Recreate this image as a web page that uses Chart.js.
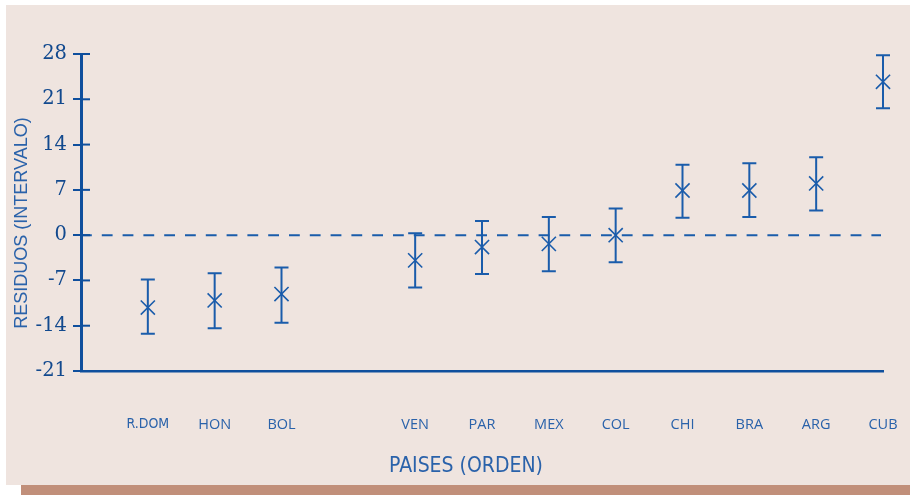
<!DOCTYPE html>
<html>
<head>
<meta charset="utf-8">
<script src="https://cdn.jsdelivr.net/npm/chart.js@4.4.1/dist/chart.umd.min.js"></script>
<style>
  html, body { margin: 0; padding: 0; background: #ffffff; }
  #wrap { position: relative; width: 910px; height: 495px; overflow: hidden; }
  #panel { position: absolute; left: 6px; top: 5px; width: 904px; height: 480px; background: #efe4df; }
  #strip { position: absolute; left: 21px; top: 485px; width: 889px; height: 10px; background: #c18f7a; }
  #c { position: absolute; left: 0; top: 0; }
</style>
</head>
<body>
<div id="wrap">
  <div id="panel"></div>
  <div id="strip"></div>
  <canvas id="c" width="910" height="495"></canvas>
</div>
<script>
// Countries in ranked order and their slot on the horizontal axis (slot 4 left empty)
const countries = ['R.DOM', 'HON', 'BOL', 'VEN', 'PAR', 'MEX', 'COL', 'CHI', 'BRA', 'ARG', 'CUB'];
const positions = [1, 2, 3, 5, 6, 7, 8, 9, 10, 11, 12];
// Residual estimate and its interval bounds
const residuals = [-11.2, -10.1, -9.1, -3.9, -1.85, -1.35, 0.0, 6.9, 6.9, 8.0, 23.7];
const upperBound = [-6.85, -5.9, -5.0, 0.3, 2.2, 2.8, 4.1, 10.9, 11.1, 12.05, 27.8];
const lowerBound = [-15.25, -14.4, -13.55, -8.1, -6.0, -5.6, -4.2, 2.7, 2.8, 3.8, 19.6];
// Vertical axis range and tick step
const yMin = -21, yMax = 28, yStep = 7;

const axisColor = '#0f4f9d';
const markColor = '#1a5cab';
const textColor = '#2a62aa';

const points = positions.map((p, i) => ({ x: p, y: residuals[i] }));

// Error bars, zero reference line, inner tick halves and axis titles
const decorations = {
  id: 'decorations',
  beforeDatasetsDraw(chart) {
    const { ctx, chartArea, scales: { x, y } } = chart;
    const y0 = y.getPixelForValue(0);
    ctx.save();
    // dashed zero line
    ctx.strokeStyle = markColor;
    ctx.lineWidth = 2;
    ctx.setLineDash([10.8, 10]);
    ctx.beginPath();
    ctx.moveTo(chartArea.left, y0);
    ctx.lineTo(chartArea.right - 2, y0);
    ctx.stroke();
    ctx.setLineDash([]);
    // tick marks crossing into the plot
    ctx.strokeStyle = axisColor;
    ctx.lineWidth = 2;
    y.ticks.forEach(t => {
      const py = y.getPixelForValue(t.value);
      ctx.beginPath();
      ctx.moveTo(chartArea.left, py);
      ctx.lineTo(chartArea.left + 9, py);
      ctx.stroke();
    });
    // interval bars with caps
    ctx.strokeStyle = markColor;
    positions.forEach((p, i) => {
      const px = x.getPixelForValue(p);
      const top = y.getPixelForValue(upperBound[i]);
      const bot = y.getPixelForValue(lowerBound[i]);
      ctx.lineWidth = 2;
      ctx.beginPath();
      ctx.moveTo(px, top);
      ctx.lineTo(px, bot);
      ctx.moveTo(px - 7, top);
      ctx.lineTo(px + 7, top);
      ctx.moveTo(px - 7, bot);
      ctx.lineTo(px + 7, bot);
      ctx.stroke();
    });
    ctx.restore();
  },
  afterDraw(chart) {
    const { ctx } = chart;
    ctx.save();
    ctx.fillStyle = textColor;
    ctx.textAlign = 'center';
    ctx.textBaseline = 'middle';
    // vertical title
    ctx.save();
    ctx.translate(22, 223);
    ctx.rotate(-Math.PI / 2);
    ctx.font = '18px "Liberation Sans", Arial, sans-serif';
    ctx.fillText('RESIDUOS (INTERVALO)', 0, 0);
    ctx.restore();
    // horizontal title
    ctx.font = '21px "Liberation Sans Narrow", "DejaVu Sans Condensed", sans-serif';
    ctx.fillText('PAISES (ORDEN)', 466, 467);
    ctx.restore();
  }
};

new Chart(document.getElementById('c'), {
  type: 'scatter',
  data: {
    datasets: [{
      data: points,
      pointStyle: 'crossRot',
      pointRadius: 10,
      pointHoverRadius: 10,
      borderWidth: 1.6,
      borderColor: markColor,
      backgroundColor: markColor,
      showLine: false,
      clip: false
    }]
  },
  options: {
    responsive: false,
    animation: false,
    events: [],
    layout: { padding: { left: 0, right: 27, top: 54, bottom: 0 } },
    plugins: { legend: { display: false }, tooltip: { enabled: false } },
    scales: {
      x: {
        type: 'linear',
        min: 0,
        max: 12,
        afterFit(scale) {
          scale.height = 124;
          scale.paddingLeft = 0;
          scale.paddingRight = 0;
        },
        afterBuildTicks(scale) { scale.ticks = positions.map(v => ({ value: v })); },
        grid: { display: false, drawTicks: false },
        border: { display: true, color: axisColor, width: 2.5 },
        ticks: {
          padding: 45,
          color: textColor,
          autoSkip: false,
          maxRotation: 0,
          font: (ctx) => {
            const lbl = countries[positions.indexOf(ctx.tick && ctx.tick.value)];
            return lbl === 'R.DOM'
              ? { family: '"Liberation Sans Narrow", "DejaVu Sans Condensed", sans-serif', size: 14 }
              : { family: '"Open Sans", sans-serif', size: 14.5 };
          },
          callback: (v) => {
            const i = positions.indexOf(v);
            return i >= 0 ? countries[i] : '';
          }
        }
      },
      y: {
        min: yMin,
        max: yMax,
        afterFit(scale) { scale.width = 81; },
        grid: { drawOnChartArea: false, drawTicks: true, tickLength: 8, color: axisColor, lineWidth: 2 },
        border: { display: true, color: axisColor, width: 3 },
        ticks: {
          stepSize: yStep,
          padding: 6,
          color: '#12498e',
          font: { family: '"DejaVu Serif", serif', size: 19.5 }
        }
      }
    }
  },
  plugins: [decorations]
});
</script>
</body>
</html>
